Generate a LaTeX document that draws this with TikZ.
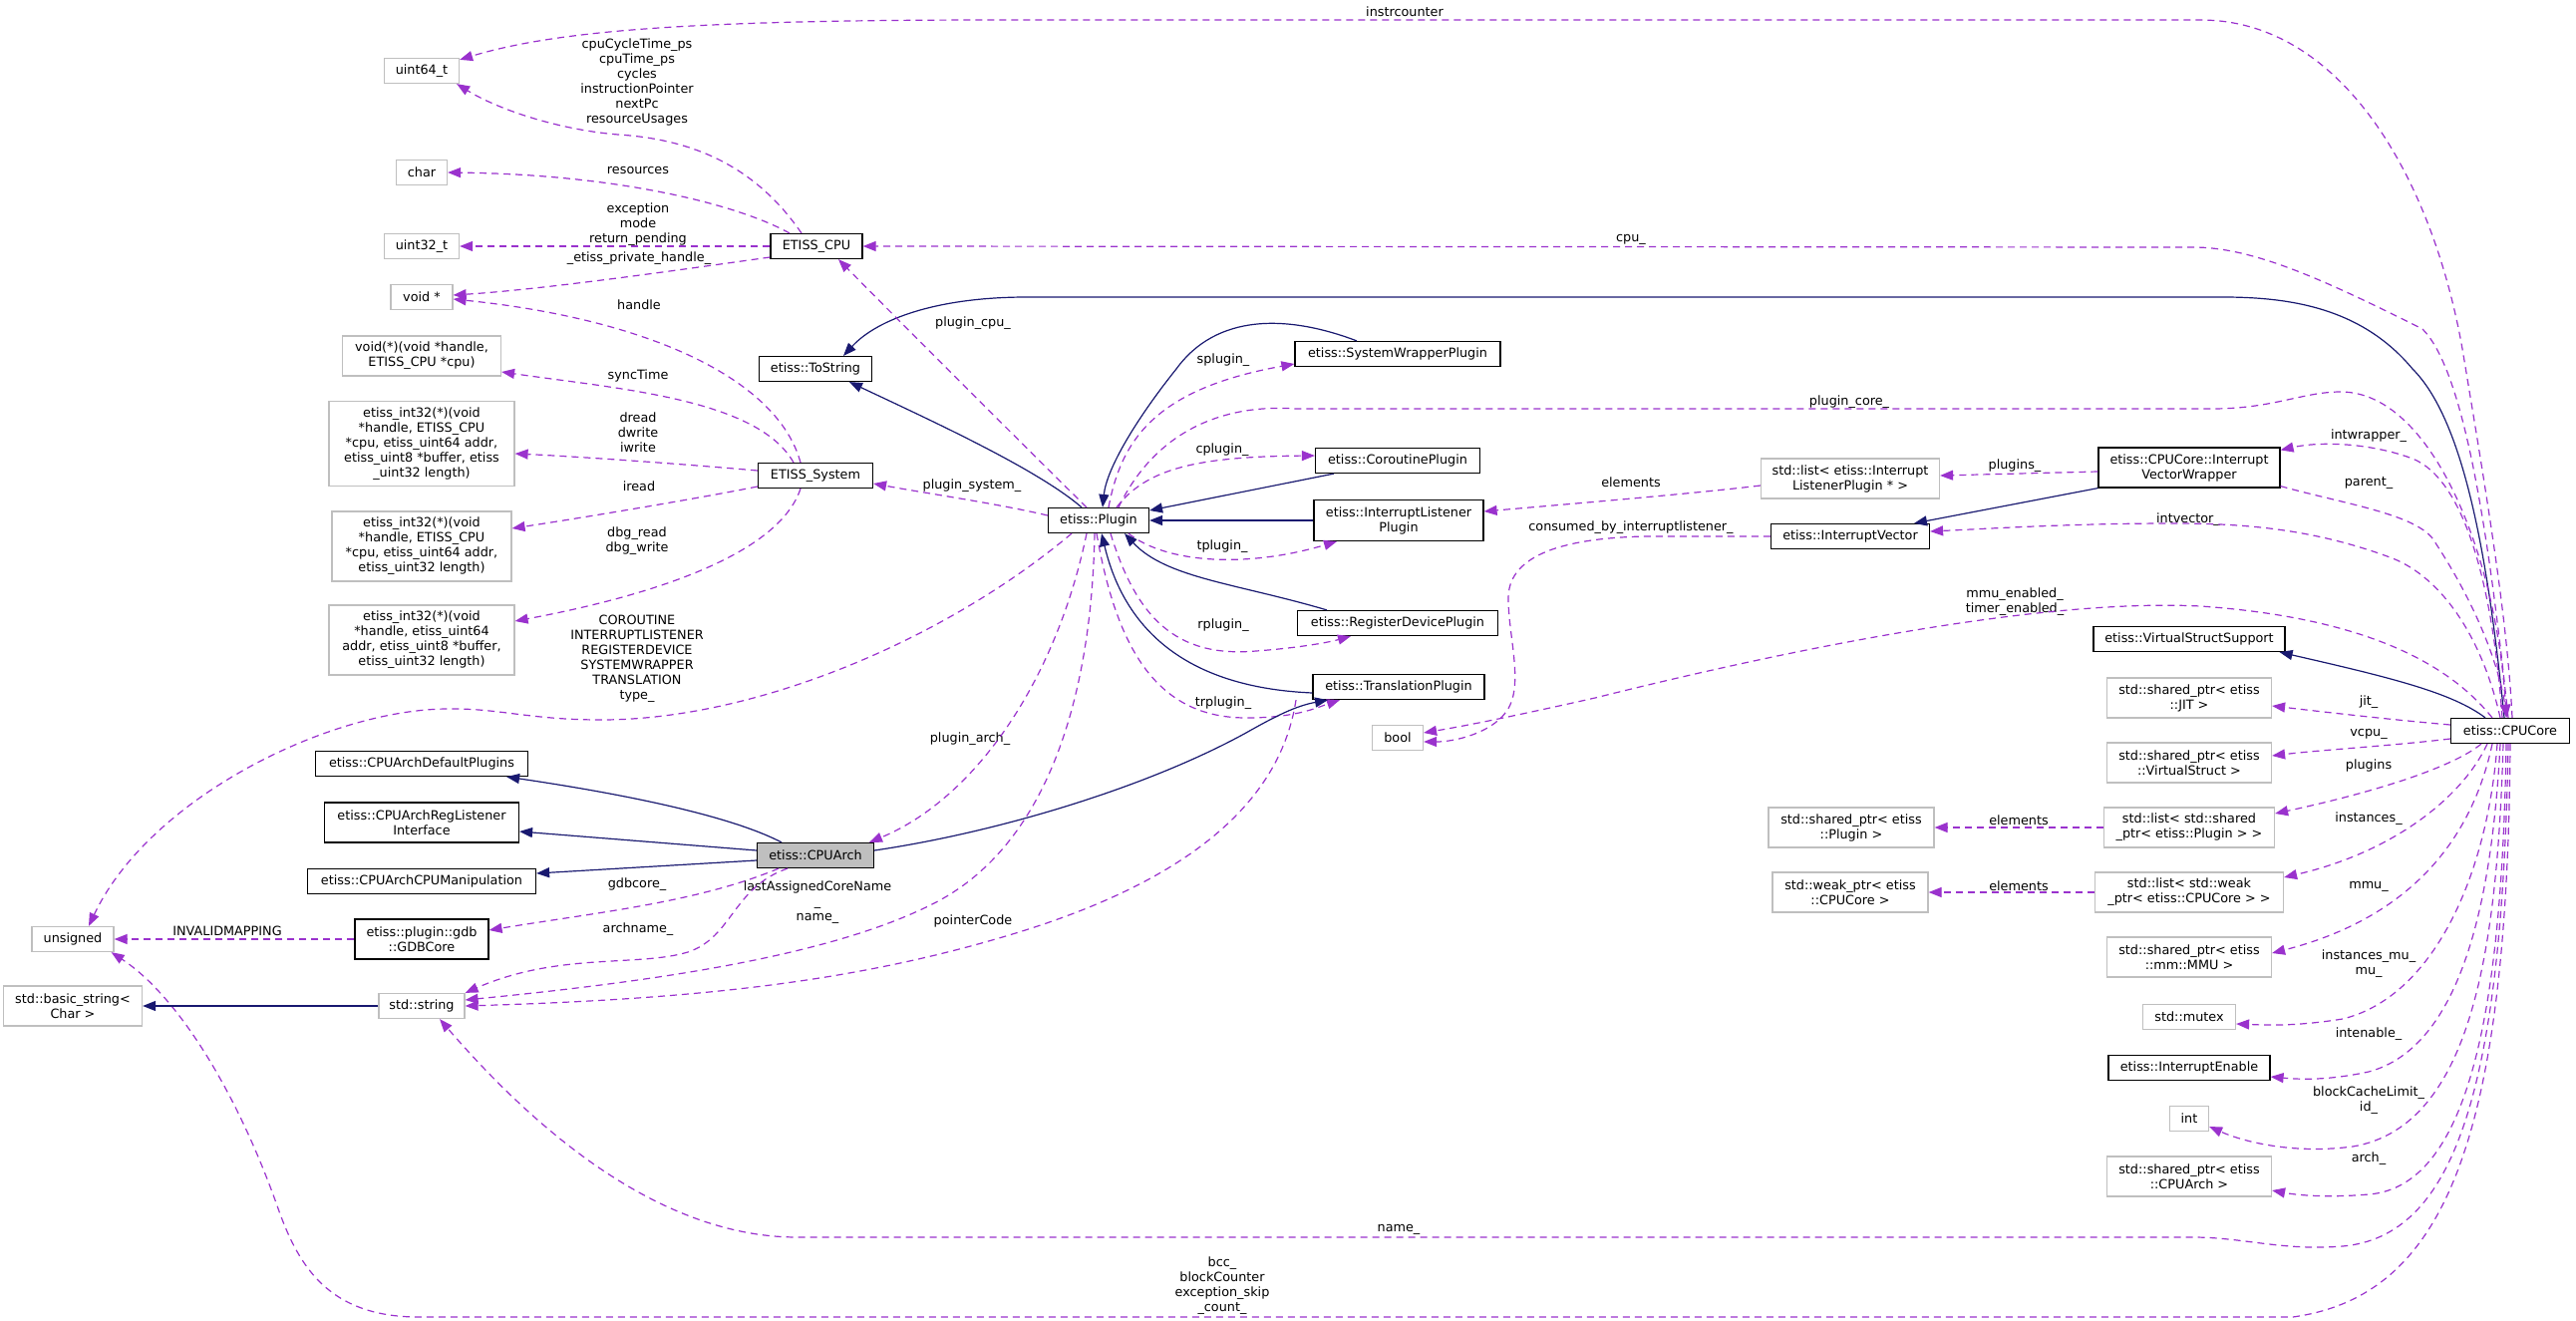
\documentclass[tikz,border=0pt]{standalone}
\usepackage{fontspec}
\setmainfont{DejaVu Sans}
\usetikzlibrary{arrows.meta}
\definecolor{edgeuse}{HTML}{9A32CD}
\definecolor{edgeinh}{HTML}{191970}
\definecolor{extgray}{HTML}{BFBFBF}
\begin{document}
\begin{tikzpicture}[x=1pt, y=-1pt, font=\fontsize{12.8}{15}\selectfont,
    cls/.style={draw=black, line width=1.2pt, fill=white, rectangle, minimum height=25pt, inner xsep=4pt, inner ysep=2pt, align=center},
    ext/.style={cls, draw=extgray},
    lbl/.style={inner sep=0pt, align=center},
    uses/.style={draw=edgeuse, line width=1.2pt, dash pattern=on 7pt off 5pt, -{Triangle[length=13pt, width=10pt]}},
    derives/.style={draw=edgeinh, line width=1.2pt, -{Triangle[length=13pt, width=10pt]}}]

    \useasboundingbox (0,0) rectangle (2584,1325);

    % Nodes
    \node (uint64) [ext, minimum width=75pt] at (423,71) {uint64\_t};
    \node (char) [ext, below of=uint64, node distance=102pt, minimum width=51pt] {char};
    \node (uint32) [ext, below of=char, node distance=74pt, minimum width=75pt] {uint32\_t};
    \node (voidptr) [ext, below of=uint32, node distance=51pt, minimum width=62pt] {void *};
    \node (voidfn) [ext, below of=voidptr, node distance=59pt, minimum width=159pt, minimum height=40pt] {void(*)(void *handle,\\ETISS\_CPU *cpu)};
    \node (fnA) [ext, below of=voidfn, node distance=88pt, minimum width=186pt, minimum height=85pt] {etiss\_int32(*)(void\\ *handle, ETISS\_CPU\\ *cpu, etiss\_uint64 addr,\\ etiss\_uint8 *buffer, etiss\\\_uint32 length)};
    \node (fnB) [ext, below of=fnA, node distance=103pt, minimum width=180pt, minimum height=70pt] {etiss\_int32(*)(void\\ *handle, ETISS\_CPU\\ *cpu, etiss\_uint64 addr,\\ etiss\_uint32 length)};
    \node (fnC) [ext, below of=fnB, node distance=94pt, minimum width=186pt, minimum height=70pt] {etiss\_int32(*)(void\\ *handle, etiss\_uint64\\ addr, etiss\_uint8 *buffer,\\ etiss\_uint32 length)};
    \node (defplug) [cls, below of=fnC, node distance=124pt, minimum width=213pt] {etiss::CPUArchDefaultPlugins};
    \node (reglisten) [cls, below of=defplug, node distance=59pt, minimum width=195pt, minimum height=40pt] {etiss::CPUArchRegListener\\Interface};
    \node (cpumanip) [cls, below of=reglisten, node distance=59pt, minimum width=229pt] {etiss::CPUArchCPUManipulation};
    \node (gdbcore) [cls, below of=cpumanip, node distance=58pt, minimum width=134pt, minimum height=40pt] {etiss::plugin::gdb\\::GDBCore};
    \node (stdstring) [ext, below of=gdbcore, node distance=67pt, minimum width=86pt] {std::string};
    \node (unsigned) [ext, left of=gdbcore, node distance=350pt, minimum width=82pt] {unsigned};
    \node (basicstr) [ext, left of=stdstring, node distance=350pt, minimum width=139pt, minimum height=40pt] {std::basic\_string<\\Char >};

    \node (etisscpu) [cls, minimum width=92pt] at (819,247) {ETISS\_CPU};
    \node (tostring) [cls, minimum width=113pt] at (818,370) {etiss::ToString};
    \node (etisssys) [cls, minimum width=115pt] at (818,477) {ETISS\_System};
    \node (cpuarch) [cls, fill=extgray, minimum width=117pt] at (818,858) {etiss::CPUArch};
    \node (plugin) [cls, minimum width=101pt] at (1102,522) {etiss::Plugin};

    \node (swp) [cls, minimum width=206pt] at (1402,355) {etiss::SystemWrapperPlugin};
    \node (corp) [cls, minimum width=165pt] at (1402,462) {etiss::CoroutinePlugin};
    \node (ilp) [cls, minimum width=170pt, minimum height=41pt] at (1403,522) {etiss::InterruptListener\\Plugin};
    \node (rdp) [cls, minimum width=201pt] at (1402,625) {etiss::RegisterDevicePlugin};
    \node (trp) [cls, minimum width=172pt] at (1403,689) {etiss::TranslationPlugin};
    \node (bool) [ext, minimum width=51pt] at (1402,740) {bool};

    \node (listilp) [ext, minimum width=179pt, minimum height=40pt] at (1856,480) {std::list< etiss::Interrupt\\ListenerPlugin * >};
    \node (intvec) [cls, minimum width=159pt] at (1856,538) {etiss::InterruptVector};
    \node (spplugin) [ext, minimum width=166pt, minimum height=40pt] at (1857,830) {std::shared\_ptr< etiss\\::Plugin >};
    \node (weakcore) [ext, minimum width=156pt, minimum height=40pt] at (1856,895) {std::weak\_ptr< etiss\\::CPUCore >};

    \node (wrapper) [cls, minimum width=182pt, minimum height=40pt] at (2196,469) {etiss::CPUCore::Interrupt\\VectorWrapper};
    \node (vss) [cls, minimum width=192pt] at (2196,641) {etiss::VirtualStructSupport};
    \node (jit) [ext, minimum width=165pt, minimum height=40pt] at (2196,700) {std::shared\_ptr< etiss\\::JIT >};
    \node (vstruct) [ext, minimum width=165pt, minimum height=40pt] at (2196,765) {std::shared\_ptr< etiss\\::VirtualStruct >};
    \node (listplug) [ext, minimum width=171pt, minimum height=40pt] at (2196,830) {std::list< std::shared\\\_ptr< etiss::Plugin > >};
    \node (listweak) [ext, minimum width=189pt, minimum height=40pt] at (2196,895) {std::list< std::weak\\\_ptr< etiss::CPUCore > >};
    \node (mmu) [ext, minimum width=165pt, minimum height=40pt] at (2196,960) {std::shared\_ptr< etiss\\::mm::MMU >};
    \node (mutex) [ext, minimum width=93pt] at (2196,1020) {std::mutex};
    \node (intenable) [cls, minimum width=162pt] at (2196,1071) {etiss::InterruptEnable};
    \node (int) [ext, minimum width=39pt] at (2196,1122) {int};
    \node (sparch) [ext, minimum width=165pt, minimum height=40pt] at (2196,1180) {std::shared\_ptr< etiss\\::CPUArch >};
    \node (cpucore) [cls, minimum width=119pt] at (2518,733) {etiss::CPUCore};

    % Labels
    \node (lInstr) [lbl] at (1409,12) {instrcounter};
    \node (lCpu) [lbl] at (1636,240) {cpu\_};
    \node (lCore) [lbl] at (1855,403) {plugin\_core\_};
    \node (lIntwrap) [lbl] at (2376,437) {intwrapper\_};
    \node (lParent) [lbl] at (2376,485) {parent\_};
    \node (lPlugins) [lbl] at (2021,467) {plugins\_};
    \node (lElemA) [lbl] at (1636,484) {elements};
    \node (lConsumed) [lbl] at (1636,529) {consumed\_by\_interruptlistener\_};
    \node (lIntvec) [lbl] at (2195,521) {intvector\_};
    \node (lEnabled) [lbl] at (2021,604) {mmu\_enabled\_\\timer\_enabled\_};
    \node (lJit) [lbl] at (2376,704) {jit\_};
    \node (lVcpu) [lbl] at (2376,736) {vcpu\_};
    \node (lPlug) [lbl] at (2376,768) {plugins};
    \node (lElemB) [lbl] at (2025,823) {elements};
    \node (lInst) [lbl] at (2376,821) {instances\_};
    \node (lElemC) [lbl] at (2025,889) {elements};
    \node (lMmu) [lbl] at (2376,889) {mmu\_};
    \node (lMutex) [lbl] at (2376,967) {instances\_mu\_\\mu\_};
    \node (lIntena) [lbl] at (2376,1037) {intenable\_};
    \node (lBlock) [lbl] at (2376,1104) {blockCacheLimit\_\\id\_};
    \node (lArch) [lbl] at (2376,1162) {arch\_};
    \node (lName) [lbl] at (1403,1233) {name\_};
    \node (lBcc) [lbl] at (1226,1290) {bcc\_\\blockCounter\\exception\_skip\\\_count\_};
    \node (lCycles) [lbl] at (639,82) {cpuCycleTime\_ps\\cpuTime\_ps\\cycles\\instructionPointer\\nextPc\\resourceUsages};
    \node (lRes) [lbl] at (640,171) {resources};
    \node (lExc) [lbl] at (640,225) {exception\\mode\\return\_pending};
    \node (lPriv) [lbl] at (641,259) {\_etiss\_private\_handle\_};
    \node (lHandle) [lbl] at (641,306) {handle};
    \node (lSync) [lbl] at (640,377) {syncTime};
    \node (lDread) [lbl] at (640,434) {dread\\dwrite\\iwrite};
    \node (lIread) [lbl] at (641,488) {iread};
    \node (lDbg) [lbl] at (639,543) {dbg\_read\\dbg\_write};
    \node (lType) [lbl] at (639,661) {COROUTINE\\INTERRUPTLISTENER\\REGISTERDEVICE\\SYSTEMWRAPPER\\TRANSLATION\\type\_};
    \node (lGdb) [lbl] at (639,887) {gdbcore\_};
    \node (lInval) [lbl] at (228,934) {INVALIDMAPPING};
    \node (lArchname) [lbl] at (640,932) {archname\_};
    \node (lLast) [lbl] at (820,905) {lastAssignedCoreName\\\_\\name\_};
    \node (lPointer) [lbl] at (976,924) {pointerCode};
    \node (lPArch) [lbl] at (973,741) {plugin\_arch\_};
    \node (lPCpu) [lbl] at (976,324) {plugin\_cpu\_};
    \node (lPSys) [lbl] at (975,487) {plugin\_system\_};
    \node (lSplug) [lbl] at (1227,361) {splugin\_};
    \node (lCplug) [lbl] at (1226,451) {cplugin\_};
    \node (lTplug) [lbl] at (1226,548) {tplugin\_};
    \node (lRplug) [lbl] at (1227,627) {rplugin\_};
    \node (lTrplug) [lbl] at (1227,705) {trplugin\_};

    % Arrows
    % CPUCore, upwards
    \draw[uses] ([xshift=2pt]cpucore.north) .. controls (2515,620) and (2495,500) .. (2470,350)
        .. controls (2440,180) and (2350,20) .. (2207,20) -- (1000,20)
        .. controls (700,20) and (560,30) .. ([yshift=-2pt]uint64.north east);
    \draw[uses] ([xshift=-2pt]cpucore.north) .. controls (2495,520) and (2470,370) .. (2430,330)
        .. controls (2330,280) and (2260,248) .. (2200,248) -- (etisscpu.east);
    \draw[derives] ([xshift=-6pt]cpucore.north) .. controls (2495,550) and (2470,420) .. (2420,370)
        .. controls (2370,310) and (2300,298) .. (2230,298) -- (1030,298)
        .. controls (940,298) and (880,320) .. ([xshift=28pt]tostring.north);
    \draw[uses] ([xshift=20pt]plugin.north) .. controls (1160,430) and (1230,405) .. (1300,410) -- (2219,410)
        .. controls (2280,410) and (2310,393) .. (2348,393)
        .. controls (2440,393) and (2505,560) .. ([xshift=-4pt]cpucore.north);
    \draw[uses] ([xshift=-8pt]cpucore.north) .. controls (2500,580) and (2470,480) .. (2420,460)
        .. controls (2380,445) and (2330,442) .. ([yshift=-3pt]wrapper.north east);
    \draw[uses] ([yshift=2pt]wrapper.south east) .. controls (2350,505) and (2420,515) .. (2440,540)
        .. controls (2480,600) and (2505,660) .. ([xshift=-3pt]cpucore.north);
    \draw[uses] ([xshift=-10pt]cpucore.north) .. controls (2490,640) and (2450,580) .. (2400,560)
        .. controls (2320,530) and (2250,525) .. (2179,525)
        .. controls (2080,525) and (2000,530) .. ([yshift=5pt]intvec.east);
    \draw[uses] ([xshift=-18pt]cpucore.north) .. controls (2460,670) and (2380,620) .. (2207,608)
        .. controls (2050,600) and (1800,650) .. (1600,700)
        .. controls (1520,718) and (1470,728) .. ([yshift=5pt]bool.east);
    \draw[derives] ([xshift=-25pt]cpucore.north) .. controls (2460,695) and (2400,680) .. ([xshift=-6pt]vss.south east);

    % interrupt vector
    \draw[uses] (intvec.west) -- (1650,538) .. controls (1560,540) and (1513,560) .. (1513,600)
        .. controls (1513,640) and (1530,690) .. (1510,715)
        .. controls (1495,735) and (1460,744) .. ([yshift=-4pt]bool.east);
    \draw[uses] ([yshift=-4pt]wrapper.west) -- ([yshift=3pt]listilp.east);
    \draw[derives] (wrapper.south west) -- ([xshift=64pt]intvec.north);
    \draw[uses] ([yshift=-7pt]listilp.west) .. controls (1700,495) and (1580,505) .. ([yshift=9pt]ilp.east);

    % CPUCore, sideways and downwards
    \draw[uses] ([yshift=6pt]cpucore.west) .. controls (2400,722) and (2330,714) .. ([yshift=-8pt]jit.east);
    \draw[uses] ([yshift=-8pt]cpucore.west) .. controls (2400,748) and (2330,752) .. ([yshift=7pt]vstruct.east);
    \draw[uses] ([xshift=-29pt]cpucore.south) .. controls (2460,770) and (2380,795) .. ([yshift=14pt]listplug.east);
    \draw[uses] ([xshift=-23pt]cpucore.south) .. controls (2470,800) and (2400,855) .. ([yshift=15pt]listweak.east);
    \draw[uses] ([xshift=-18pt]cpucore.south) .. controls (2480,840) and (2420,920) .. ([yshift=4pt]mmu.east);
    \draw[uses] ([xshift=-13pt]cpucore.south) .. controls (2495,880) and (2440,1000) .. (2350,1022)
        .. controls (2300,1030) and (2270,1028) .. ([yshift=-7pt]mutex.east);
    \draw[uses] ([xshift=-10pt]cpucore.south) .. controls (2500,900) and (2470,1050) .. (2376,1075)
        .. controls (2330,1085) and (2300,1082) .. ([yshift=-9pt]intenable.east);
    \draw[uses] ([xshift=-7pt]cpucore.south) .. controls (2505,950) and (2480,1130) .. (2360,1150)
        .. controls (2300,1158) and (2250,1145) .. ([yshift=-8pt]int.east);
    \draw[uses] ([xshift=-4pt]cpucore.south) .. controls (2510,1000) and (2480,1190) .. (2376,1198)
        .. controls (2330,1202) and (2300,1198) .. ([yshift=-14pt]sparch.east);
    \draw[uses] ([xshift=-2pt]cpucore.south) .. controls (2510,1100) and (2460,1240) .. (2350,1250)
        .. controls (2290,1255) and (2250,1241) .. (2200,1241) -- (800,1241)
        .. controls (680,1241) and (560,1160) .. ([xshift=18pt]stdstring.south);
    \draw[uses] (cpucore.south) .. controls (2515,1150) and (2450,1300) .. (2300,1321) -- (420,1321)
        .. controls (330,1321) and (300,1270) .. (280,1215)
        .. controls (240,1100) and (180,1000) .. ([xshift=-3pt]unsigned.south east);
    \draw[uses] (listplug.west) -- (spplugin.east);
    \draw[uses] (listweak.west) -- (weakcore.east);

    % Plugin
    \draw[derives] ([xshift=-17pt]plugin.north) .. controls (1040,470) and (930,420) .. ([xshift=34pt]tostring.south);
    \draw[uses] ([xshift=-12pt]plugin.north) .. controls (1020,440) and (900,320) .. ([xshift=22pt]etisscpu.south);
    \draw[uses] ([yshift=5pt]plugin.west) .. controls (1000,505) and (930,495) .. ([yshift=-8pt]etisssys.east);
    \draw[uses] ([xshift=10pt]plugin.north) .. controls (1125,440) and (1160,390) .. ([yshift=-10pt]swp.west);
    \draw[derives] ([xshift=-41pt]swp.north) .. controls (1290,315) and (1220,315) .. (1180,370)
        .. controls (1140,420) and (1110,470) .. ([xshift=4pt]plugin.north);
    \draw[uses] ([xshift=18pt]plugin.north) .. controls (1150,470) and (1200,458) .. ([yshift=5pt]corp.west);
    \draw[derives] ([xshift=-64pt]corp.south) -- ([yshift=10pt]plugin.east);
    \draw[derives] (ilp.west) -- (plugin.east);
    \draw[uses] ([xshift=30pt]plugin.south) .. controls (1170,565) and (1250,570) .. ([xshift=-62pt]ilp.south);
    \draw[derives] ([xshift=-71pt]rdp.north) .. controls (1240,585) and (1170,580) .. ([xshift=26pt]plugin.south);
    \draw[uses] ([xshift=12pt]plugin.south) .. controls (1140,620) and (1180,660) .. (1260,653)
        .. controls (1300,650) and (1330,645) .. ([xshift=-47pt]rdp.south);
    \draw[derives] ([yshift=-6pt]trp.west) .. controls (1200,690) and (1130,640) .. ([xshift=3pt]plugin.south);
    \draw[uses] ([xshift=-2pt]plugin.south) .. controls (1120,650) and (1160,720) .. (1250,720)
        .. controls (1300,720) and (1320,710) .. ([xshift=-59pt]trp.south);
    \draw[uses] ([xshift=-12pt]plugin.south) .. controls (1060,680) and (980,800) .. ([xshift=54pt]cpuarch.north);
    \draw[uses] ([xshift=-4pt]plugin.south) .. controls (1095,700) and (1050,850) .. (935,907)
        .. controls (830,960) and (650,985) .. ([yshift=6pt]stdstring.east);
    \draw[uses] ([xshift=-27pt]plugin.south) .. controls (950,640) and (760,722) .. (603,722)
        .. controls (530,722) and (500,710) .. (448,711)
        .. controls (330,712) and (150,800) .. ([xshift=16pt]unsigned.north);
    \draw[uses] ([xshift=-103pt]trp.south) .. controls (1285,800) and (1200,880) .. (1022,935)
        .. controls (860,985) and (700,1002) .. (stdstring.east);

    % CPUArch
    \draw[derives] ([yshift=5pt]cpuarch.east) .. controls (1000,835) and (1150,790) .. (1250,735)
        .. controls (1280,718) and (1300,708) .. ([xshift=-71pt]trp.south);
    \draw[derives] ([xshift=-34pt]cpuarch.north) .. controls (740,822) and (650,800) .. ([xshift=-22pt]defplug.south east);
    \draw[derives] ([yshift=5pt]cpuarch.west) -- ([yshift=-9pt]reglisten.east);
    \draw[derives] ([yshift=-5pt]cpuarch.west) -- ([yshift=8pt]cpumanip.east);
    \draw[uses] ([xshift=-37pt]cpuarch.south) .. controls (700,905) and (600,915) .. ([yshift=9pt]gdbcore.east);
    \draw[uses] ([xshift=-28pt]cpuarch.south) .. controls (735,890) and (735,940) .. (690,955)
        .. controls (640,970) and (560,955) .. (stdstring.north east);
    \draw[uses] (gdbcore.west) -- (unsigned.east);
    \draw[derives] (stdstring.west) -- (basicstr.east);

    % ETISS_CPU and ETISS_System
    \draw[uses] ([xshift=-15pt]etisscpu.north) .. controls (760,170) and (700,140) .. (620,135)
        .. controls (560,130) and (500,110) .. ([xshift=-3pt]uint64.south east);
    \draw[uses] ([xshift=-27pt]etisscpu.north) .. controls (740,205) and (620,175) .. (char.east);
    \draw[uses] (etisscpu.west) -- (uint32.east);
    \draw[uses] ([yshift=-11pt]etisscpu.west) .. controls (700,268) and (550,290) .. ([yshift=2pt]voidptr.east);
    \draw[uses] ([xshift=-15pt]etisssys.north) .. controls (780,380) and (650,320) .. ([yshift=-2pt]voidptr.east);
    \draw[uses] ([xshift=-22pt]etisssys.north) .. controls (760,400) and (620,390) .. ([yshift=-16pt]voidfn.east);
    \draw[uses] ([yshift=5pt]etisssys.west) .. controls (680,465) and (580,458) .. ([yshift=-10pt]fnA.east);
    \draw[uses] ([yshift=-11pt]etisssys.west) .. controls (700,500) and (580,520) .. ([yshift=18pt]fnB.east);
    \draw[uses] ([xshift=-15pt]etisssys.south) .. controls (780,560) and (640,600) .. ([yshift=19pt]fnC.east);

\end{tikzpicture}
\end{document}
